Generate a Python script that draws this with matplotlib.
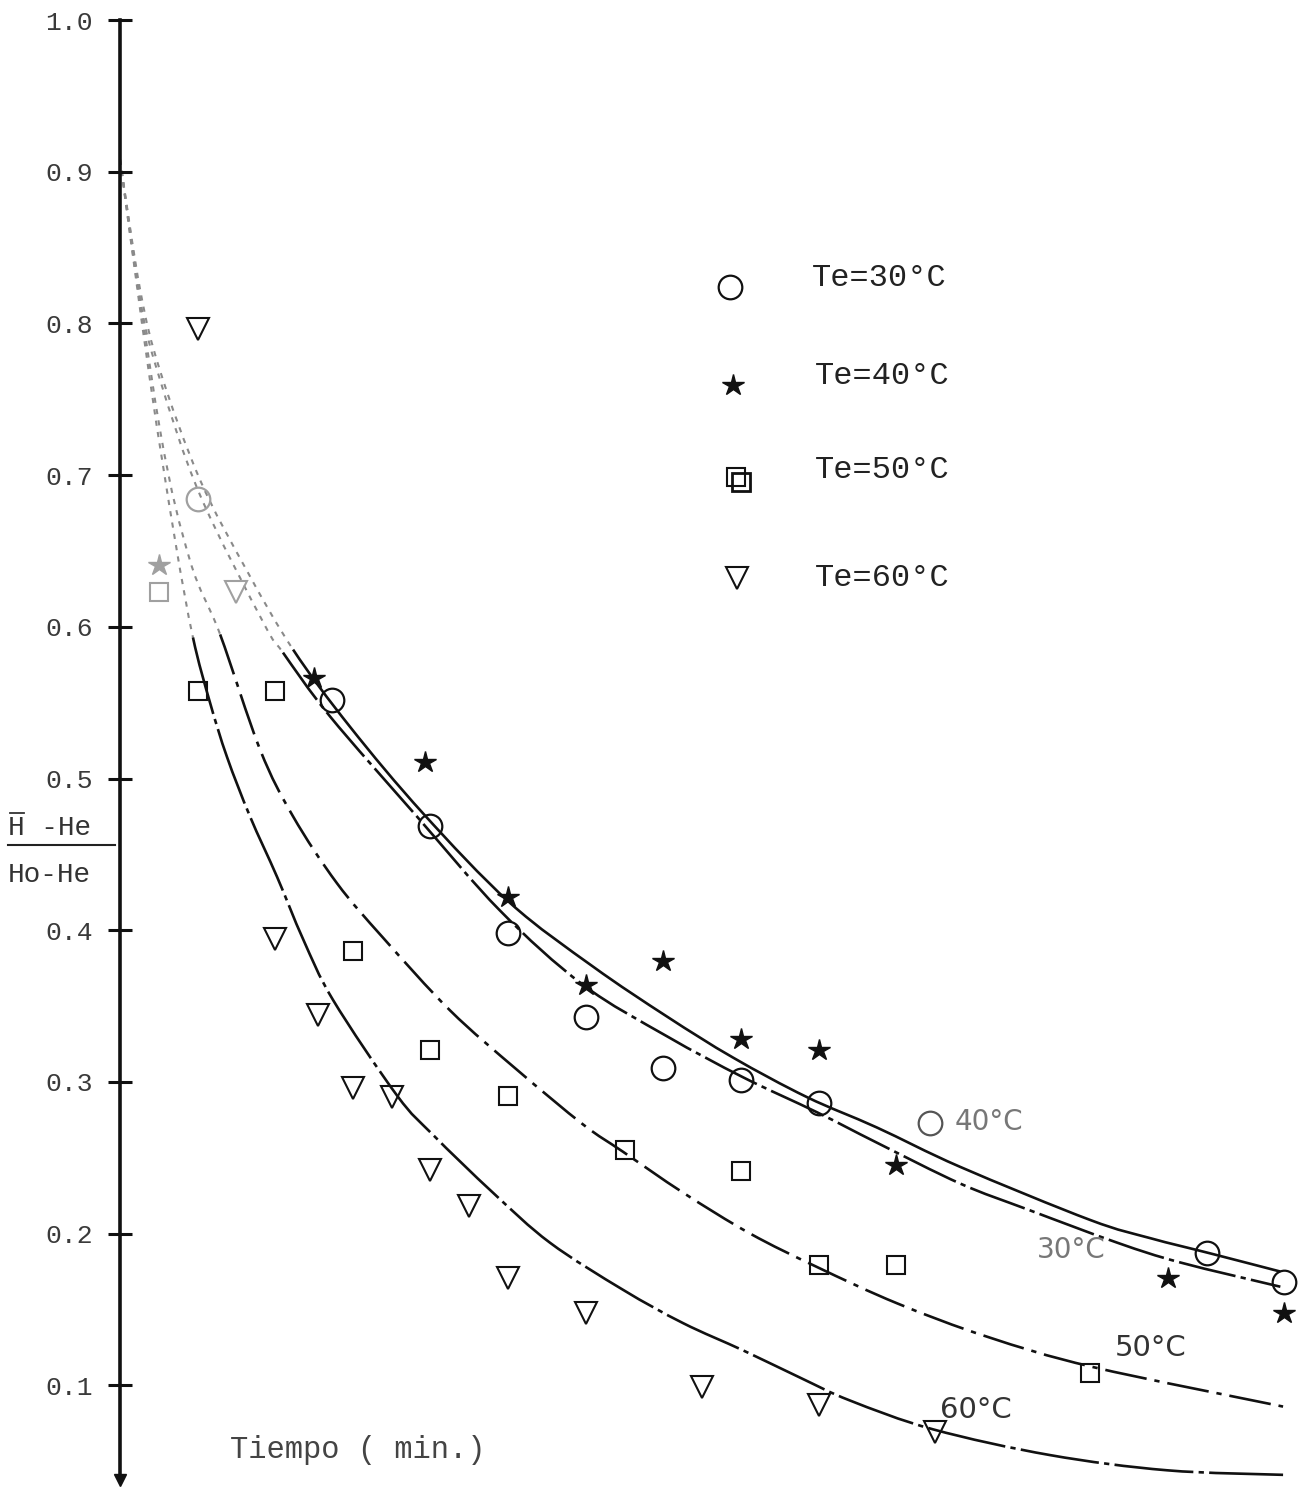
import matplotlib
matplotlib.use("Agg")
import matplotlib.pyplot as plt
from matplotlib.lines import Line2D
from matplotlib.path import Path
from matplotlib.patches import PathPatch
import numpy as np

# ---------------- data ----------------
# time axis in sampling steps (the original has no x tick labels)
t_30 = [2, 5.45, 8, 10, 12, 14, 16, 18, 28, 30]
v_30 = [0.684, 0.552, 0.469, 0.398, 0.343, 0.309, 0.301, 0.286, 0.187, 0.168]

t_40 = [1, 5, 7.85, 10, 12, 14, 16, 18, 20, 27, 30]
v_40 = [0.641, 0.566, 0.511, 0.422, 0.364, 0.380, 0.328, 0.321, 0.245, 0.171, 0.148]

t_50 = [1, 2, 4, 6, 8, 10, 13, 16, 18, 20, 25]
v_50 = [0.623, 0.558, 0.558, 0.386, 0.321, 0.291, 0.255, 0.241, 0.179, 0.179, 0.108]

t_60 = [2, 3, 4, 5.1, 6, 7, 8, 9, 10, 12, 15, 18, 21]
v_60 = [0.796, 0.623, 0.394, 0.344, 0.296, 0.290, 0.242, 0.218, 0.171, 0.148, 0.099, 0.087, 0.069]

# points whose print is faded in the scan
faded_30 = [0]
faded_40 = [0]
faded_50 = [0]
faded_60 = [1]

# hand-drawn fitted curves
cu_t = [0, 0.52, 1.03, 2.06, 3.27, 4.46, 5.93, 7.81, 10.05, 12.19, 14.1, 15.8, 17.7, 19.5,
        21.65, 25.0, 26.55, 28.09, 29.9]
cu_v = [0.908, 0.822, 0.769, 0.697, 0.637, 0.585, 0.534, 0.477, 0.418, 0.376, 0.343, 0.316,
        0.290, 0.270, 0.244, 0.209, 0.197, 0.187, 0.175]

cl_t = [0, 0.52, 1.03, 2.06, 3.69, 4.2, 5.41, 7.65, 9.79, 11.93, 14.1, 16.06, 17.96, 19.5,
        21.65, 23.38, 25.7, 27.32, 29.9]
cl_v = [0.908, 0.815, 0.763, 0.687, 0.603, 0.583, 0.541, 0.475, 0.413, 0.364, 0.330, 0.303,
        0.280, 0.260, 0.233, 0.216, 0.194, 0.181, 0.165]

c50_t = [0, 1.03, 1.80, 2.58, 3.61, 4.46, 5.59, 6.78, 8.51, 10.23, 11.93, 12.96, 14.51, 16.24,
         17.96, 20.03, 22.35, 25.08, 29.97]
c50_v = [0.908, 0.730, 0.644, 0.595, 0.519, 0.475, 0.431, 0.395, 0.347, 0.308, 0.272, 0.254,
         0.227, 0.200, 0.178, 0.154, 0.132, 0.112, 0.086]

c60_t = [0, 0.77, 1.42, 1.88, 2.32, 2.76, 3.35, 4.05, 4.72, 5.49, 7.14, 8.07, 9.61, 11.08, 12.96,
         14.51, 16.06, 17.53, 18.81, 20.95, 23.97, 26.98, 29.97]
c60_v = [0.908, 0.763, 0.657, 0.593, 0.550, 0.514, 0.475, 0.435, 0.394, 0.354, 0.291, 0.265,
         0.227, 0.194, 0.163, 0.141, 0.123, 0.105, 0.090, 0.071, 0.054, 0.044, 0.041]

y_ticks = [0.1, 0.2, 0.3, 0.4, 0.5, 0.6, 0.7, 0.8, 0.9, 1.0]
y_tick_labels = ["0.1", "0.2", "0.3", "0.4", "0.5", "0.6", "0.7", "0.8", "0.9", "1.0"]
legend_labels = ["Te=30\u00b0C", "Te=40\u00b0C", "Te=50\u00b0C", "Te=60\u00b0C"]
curve_labels = ["40\u00b0C", "30\u00b0C", "50\u00b0C", "60\u00b0C"]
x_label = "Tiempo ( min.)"
y_num = "H -He"
y_den = "Ho-He"

# ---------------- figure ----------------
W, H = 1299, 1496
MONO = ["Liberation Mono", "DejaVu Sans Mono"]
SANS = ["DejaVu Sans"]
INK = "#111111"
fig = plt.figure(figsize=(W / 100, H / 100), dpi=100)
ax = fig.add_axes([120 / W, 16 / H, 1172 / W, 1460 / H])
ax.set_xlim(0, 30.2)
ax.set_ylim(0.0376, 1.0)

for s in ["top", "right", "bottom"]:
    ax.spines[s].set_visible(False)
ax.spines["left"].set_linewidth(2.6)
ax.spines["left"].set_color(INK)
ax.set_xticks([])
ax.set_yticks(y_ticks)
ax.set_yticklabels(y_tick_labels, family=MONO, fontsize=19, color="#3a3a3a")
ax.tick_params(axis="y", direction="inout", length=17, width=2.2, pad=11, color=INK)

# arrow head at the bottom of the vertical axis
ax.plot([0], [0.0376], marker="v", ms=8, color=INK, clip_on=False)


def bezier_segments(tt, vv):
    P = np.column_stack([tt, vv]).astype(float)
    n = len(P)
    segs = []
    for i in range(n - 1):
        p0 = P[i - 1] if i > 0 else P[i]
        p1, p2 = P[i], P[i + 1]
        p3 = P[i + 2] if i + 2 < n else P[i + 1]
        c1 = p1 + (p2 - p0) / 6.0
        c2 = p2 - (p3 - p1) / 6.0
        segs.append((p1, c1, c2, p2))
    return segs


def seg_path(segs):
    verts = [segs[0][0]]
    codes = [Path.MOVETO]
    for (_, c1, c2, p2) in segs:
        verts += [c1, c2, p2]
        codes += [Path.CURVE4] * 3
    return Path(verts, codes)


def draw_curve(tt, vv, nfade, style, lw=1.9):
    segs = bezier_segments(tt, vv)
    ax.add_patch(PathPatch(seg_path(segs[:nfade]), fill=False, edgecolor="#8a8a8a",
                           lw=1.5, ls=(0, (2.5, 3)), clip_on=False))
    ax.add_patch(PathPatch(seg_path(segs[nfade:]), fill=False, edgecolor=INK,
                           lw=lw, ls=style, clip_on=False))


draw_curve(cu_t, cu_v, 5, "-")
draw_curve(cl_t, cl_v, 5, (0, (22, 2, 2, 2)))
draw_curve(c50_t, c50_v, 3, (0, (16, 3, 2, 3)))
draw_curve(c60_t, c60_v, 3, (0, (30, 2, 2, 2)))


def draw_points(tt, vv, faded, **kw):
    tt = np.asarray(tt)
    vv = np.asarray(vv)
    mask = np.ones(len(tt), bool)
    mask[faded] = False
    ax.plot(tt[mask], vv[mask], ls="none", clip_on=False, **kw)
    kw2 = dict(kw)
    if kw2.get("mec"):
        kw2["mec"] = "#a0a0a0"
    if kw2.get("color"):
        kw2["color"] = "#a0a0a0"
    ax.plot(tt[~mask], vv[~mask], ls="none", clip_on=False, **kw2)


draw_points(t_30, v_30, faded_30, marker="o", ms=17, mfc="none", mec=INK, mew=1.6)
draw_points(t_40, v_40, faded_40, marker="*", ms=16, color=INK)
draw_points(t_50, v_50, faded_50, marker="s", ms=13.5, mfc="none", mec=INK, mew=1.5)
draw_points(t_60, v_60, faded_60, marker="v", ms=16, mfc="none", mec=INK, mew=1.5)


def fx(px):
    return px / W


def fy(py):
    return 1 - py / H


# legend (figure coordinates)
leg_text = [(812, 278), (815, 376), (815, 470), (815, 578)]
fig.add_artist(Line2D([fx(730)], [fy(287)], marker="o", ms=17, mfc="none", mec=INK, mew=1.6))
fig.add_artist(Line2D([fx(733)], [fy(385)], marker="*", ms=16, color=INK))
fig.add_artist(Line2D([fx(736)], [fy(477)], marker="s", ms=13, mfc="none", mec=INK, mew=1.5))
fig.add_artist(Line2D([fx(741)], [fy(482)], marker="s", ms=13, mfc="none", mec=INK, mew=2.0))
fig.add_artist(Line2D([fx(737)], [fy(578)], marker="v", ms=16, mfc="none", mec=INK, mew=1.5))
for (tx, ty), lab in zip(leg_text, legend_labels):
    fig.text(fx(tx), fy(ty), lab, family=MONO, fontsize=23, color="#222222", ha="left", va="center")

# curve labels
fig.add_artist(Line2D([fx(930)], [fy(1123)], marker="o", ms=17, mfc="none", mec="#555555", mew=1.6))
fig.text(fx(955), fy(1122), curve_labels[0], family=SANS, fontsize=20, color="#777777", ha="left", va="center")
fig.text(fx(1037), fy(1250), curve_labels[1], family=SANS, fontsize=20, color="#777777", ha="left", va="center")
fig.text(fx(1115), fy(1348), curve_labels[2], family=SANS, fontsize=21, color="#333333", ha="left", va="center")
fig.text(fx(940), fy(1410), curve_labels[3], family=SANS, fontsize=21, color="#333333", ha="left", va="center")

# x label
fig.text(fx(230), fy(1450), x_label, family=MONO, fontsize=22, color="#444444", ha="left", va="center")

# y label (fraction with an overbar on H)
fig.text(fx(8), fy(828), y_num, family=MONO, fontsize=20, color="#333333", ha="left", va="center")
fig.add_artist(Line2D([fx(10), fx(24)], [fy(813), fy(813)], color="#333333", lw=1.3))
fig.add_artist(Line2D([fx(8), fx(115)], [fy(845), fy(845)], color="#222222", lw=1.5))
fig.text(fx(8), fy(875), y_den, family=MONO, fontsize=20, color="#333333", ha="left", va="center")

fig.savefig("out.png", dpi=100, facecolor="white")
